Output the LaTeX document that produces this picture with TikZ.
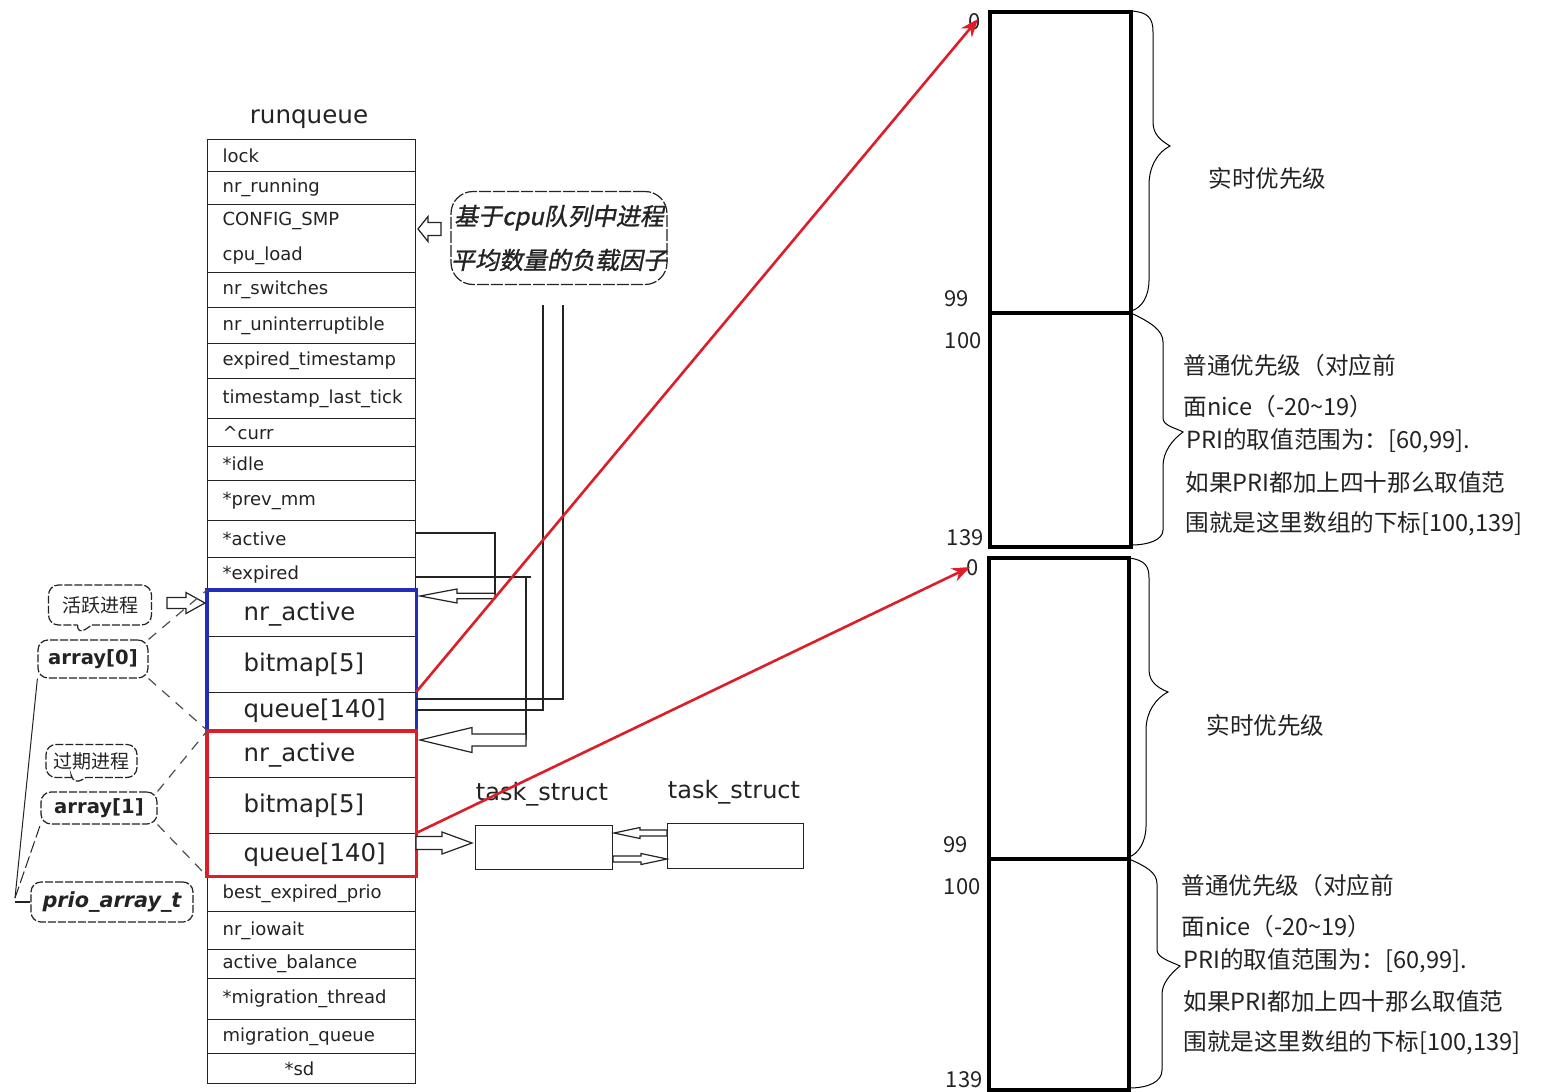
\documentclass[tikz,border=0pt]{standalone}
\usepackage{fontspec}
\setmainfont{DejaVu Sans}
\newfontfamily\cjk{Noto Sans CJK SC}
\newfontfamily\cjkbi[FakeSlant=0.2,FakeBold=1.2]{Noto Sans CJK SC}
\usetikzlibrary{arrows.meta,shapes.callouts,calc}
\definecolor{ink}{RGB}{35,35,35}
\definecolor{bluebox}{RGB}{35,45,185}
\definecolor{redbox}{RGB}{220,30,40}
\newcommand{\rqfont}{\fontsize{9}{11}\selectfont}
\newcommand{\aqfont}{\fontsize{12.2}{14}\selectfont}
\newcommand{\blockarrow}[6]{%
  \pgfmathsetmacro{\bah}{#2>#1 ? #2-#6 : #2+#6}%
  \draw[harrow] (#1,#3-#4) -- (\bah,#3-#4) -- (\bah,#3-#5) -- (#2,#3) -- (\bah,#3+#5) -- (\bah,#3+#4) -- (#1,#3+#4) -- cycle;}
\begin{document}
\begin{tikzpicture}[x=0.5pt,y=-0.5pt,
  row/.style={draw=ink, line width=0.6pt, minimum width=104pt, text width=89pt, inner xsep=7.5pt, inner ysep=0pt, align=left, font=\rqfont, text=ink, anchor=north west},
  arow/.style={draw=ink, line width=0.6pt, minimum width=104pt, text width=68pt, inner xsep=18pt, inner ysep=0pt, align=left, font=\aqfont, text=ink, anchor=north west},
  conn/.style={draw=ink, line width=0.6pt},
  harrow/.style={draw=ink, fill=white, line width=0.6pt},
  dconn/.style={draw=ink!80, line width=0.6pt, dash pattern=on 5pt off 4pt},
  bub/.style={draw=ink, line width=0.6pt, dash pattern=on 6pt off 1pt, rounded corners=6pt, fill=white, inner sep=0pt},
  lbl/.style={draw=ink, line width=0.6pt, rounded corners=5pt, dash pattern=on 4pt off 1pt, inner sep=0pt, text=ink},
  arr/.style={draw=black, line width=2pt, anchor=north west, inner sep=0pt},
  rtext/.style={font=\cjk\fontsize{11.8}{14}\selectfont, text=ink, anchor=west, inner sep=0pt},
  num/.style={font=\cjk\fontsize{11}{13}\selectfont, text=ink, anchor=east, inner sep=0pt},
  redarrow/.style={draw=redbox, line width=1.3pt, -{Stealth[length=9pt,width=7pt]}},
  brace/.style={draw=black, line width=0.5pt}
]
\useasboundingbox (0,0) rectangle (1550,1091);
\fill[white] (0,0) rectangle (1550,1091);

% ---------- runqueue table ----------
\node[font=\fontsize{12.3}{14}\selectfont, text=ink] (title) at (309,119) {runqueue};
\node[row, minimum height=16pt]   (lock) at (207,139) {lock};
\node[row, minimum height=16.5pt] (nrr)  at (207,171) {nr\_running};
\node[row, minimum height=34pt, font=\fontsize{9}{17.5}\selectfont] (cfg) at (207,204) {CONFIG\_SMP\\cpu\_load};
\node[row, minimum height=17.5pt] (nrs)  at (207,272) {nr\_switches};
\node[row, minimum height=18pt]   (nru)  at (207,307) {nr\_uninterruptible};
\node[row, minimum height=17.5pt] (ets)  at (207,343) {expired\_timestamp};
\node[row, minimum height=20pt]   (tlt)  at (207,378) {timestamp\_last\_tick};
\node[row, minimum height=14pt]   (curr) at (207,418) {\textasciicircum curr};
\node[row, minimum height=17pt]   (idle) at (207,446) {*idle};
\node[row, minimum height=20pt]   (pmm)  at (207,480) {*prev\_mm};
\node[row, minimum height=18.5pt] (act)  at (207,520) {*active};
\node[row, minimum height=16.5pt] (exp)  at (207,557) {*expired};
\node[arow, minimum height=23pt]   (a0n) at (207,590) {nr\_active};
\node[arow, minimum height=28pt]   (a0b) at (207,636) {bitmap[5]};
\node[arow, minimum height=18.5pt] (a0q) at (207,692) {queue[140]};
\node[arow, minimum height=23pt]   (a1n) at (207,731) {nr\_active};
\node[arow, minimum height=28pt]   (a1b) at (207,777) {bitmap[5]};
\node[arow, minimum height=21pt]   (a1q) at (207,833) {queue[140]};
\node[row, minimum height=18pt]   (bep)  at (207,875) {best\_expired\_prio};
\node[row, minimum height=19pt]   (iow)  at (207,911) {nr\_iowait};
\node[row, minimum height=14.5pt] (abal) at (207,949) {active\_balance};
\node[row, minimum height=20.5pt] (mth)  at (207,978) {*migration\_thread};
\node[row, minimum height=17pt]   (mq)   at (207,1019) {migration\_queue};
\node[row, minimum height=15pt]   (sd)   at (207,1053) {\hspace*{31pt}*sd};
\draw[bluebox, line width=1.6pt] (a0n.north west) rectangle (a0q.south east);
\draw[redbox, line width=1.6pt] (a1n.north west) rectangle (a1q.south east);

% ---------- load-factor bubble ----------
\node[bub, rounded corners=11pt, minimum width=108pt, minimum height=46.5pt, align=center,
      font=\cjkbi\fontsize{12}{22}\selectfont, text=ink] (load) at (559,238)
      {基于cpu队列中进程\\平均数量的负载因子};
\blockarrow{441}{418}{229}{6.5}{12.5}{10}

% ---------- lines from queue / active / expired ----------
\coordinate (v1t) at (543,305);
\coordinate (v2t) at (563,305);
\coordinate (h1) at (563,699);
\coordinate (h2) at (543,710);
\draw[conn] (h1 -| a0q.east) -- (h1) -- (v2t);
\draw[conn] (h2 -| a0q.east) -- (h2) -- (v1t);
\coordinate (ac) at (495,533);
\coordinate (acd) at (495,596);
\draw[conn] (ac -| act.east) -- (ac) -- (acd);
\blockarrow{495}{420}{596}{2.8}{7}{37}
\coordinate (ex) at (531,577);
\coordinate (exv) at (526,577);
\coordinate (exd) at (526,740);
\draw[conn] (ex -| exp.east) -- (ex);
\draw[conn] (exv) -- (exd);
\blockarrow{526}{420}{740}{6}{12.5}{52}

% ---------- task_struct ----------
\node[draw=ink, line width=0.6pt, minimum width=68.5pt, minimum height=22pt, anchor=north west, inner sep=0pt] (ts1) at (475,825) {};
\node[draw=ink, line width=0.6pt, minimum width=68pt, minimum height=22.5pt, anchor=north west, inner sep=0pt] (ts2) at (667,823) {};
\node[font=\fontsize{12}{14}\selectfont, text=ink] (ts1l) at (542,794) {task\_struct};
\node[font=\fontsize{12}{14}\selectfont, text=ink] (ts2l) at (734,792) {task\_struct};
\blockarrow{416}{472}{843}{6.5}{11}{30}
\blockarrow{667}{614}{833}{3}{5.5}{26}
\blockarrow{613}{667}{859}{3}{5.5}{26}

% ---------- left labels ----------
\node[rectangle callout, draw=ink, line width=0.6pt, dash pattern=on 4pt off 1pt, rounded corners=5pt,
      minimum width=51.5pt, minimum height=20pt, inner sep=0pt,
      callout absolute pointer={(77,635)}, font=\cjk\fontsize{9.5}{11}\selectfont, text=ink] (act0) at (100,605) {活跃进程};
\node[lbl, minimum width=55pt, minimum height=19pt, font=\bfseries\fontsize{9.8}{12}\selectfont] (arr0) at (93,659) {array[0]};
\node[rectangle callout, draw=ink, line width=0.6pt, dash pattern=on 4pt off 1pt, rounded corners=5pt,
      minimum width=45.5pt, minimum height=16.5pt, inner sep=0pt,
      callout absolute pointer={(73,785)}, font=\cjk\fontsize{9.5}{11}\selectfont, text=ink] (exp1) at (91.5,761) {过期进程};
\node[lbl, minimum width=58pt, minimum height=16pt, font=\bfseries\fontsize{9.8}{12}\selectfont] (arr1) at (99,808) {array[1]};
\node[lbl, minimum width=81pt, minimum height=20pt, font=\bfseries\itshape\fontsize{10.4}{12}\selectfont] (prio) at (112,902) {prio\_array\_t};
\blockarrow{167}{205}{603}{5.5}{10.5}{19}

\draw[dconn] (arr0.north east) -- (a0n.north west);
\draw[dconn] (arr0.south east) -- (a0q.south west);
\draw[dconn] (arr1.north east) -- (a1n.north west);
\draw[dconn] (arr1.south east) -- (a1q.south west);
\coordinate (pc) at (15,898);
\draw[conn, line width=0.5pt] (pc) -- (arr0.south west);
\draw[conn, line width=0.5pt, dash pattern=on 6pt off 2pt] (pc) -- (arr1.south west);
\draw[conn] (pc |- prio.west) -- (prio.west);

% ---------- priority arrays ----------
\node[arr, minimum width=70.5pt, minimum height=150.5pt] (T1) at (988,10) {};
\node[arr, minimum width=70.5pt, minimum height=117pt] (T2) at (988,311) {};
\node[arr, minimum width=70pt, minimum height=150.5pt] (B1) at (987,556) {};
\node[arr, minimum width=70pt, minimum height=115.5pt] (B2) at (987,857) {};

\node[num] (t0)   at (981,22) {0};
\node[num] (t99)  at (969,299) {99};
\node[num] (t100) at (982,341) {100};
\node[num] (t139) at (984,538) {139};
\node[num] (b0)   at (979,568) {0};
\node[num] (b99)  at (968,845) {99};
\node[num] (b100) at (981,887) {100};
\node[num] (b139) at (983,1080) {139};

\coordinate (tip1) at (978,19);
\coordinate (tip2) at (970,567);
\draw[redarrow] (a0q.north east) -- (tip1);
\draw[redarrow] (a1q.north east) -- (tip2);

% braces
\draw[brace] (1131,11) .. controls (1148,12) and (1153,18) .. (1153,32) -- (1153,122)
  .. controls (1153,134) and (1160,140) .. (1170,146)
  .. controls (1158,152) and (1149,166) .. (1149,185) -- (1149,280)
  .. controls (1149,296) and (1142,308) .. (1131,311);
\draw[brace] (1131,313) .. controls (1150,322) and (1163,330) .. (1163,342) -- (1163,418)
  .. controls (1163,426) and (1176,428) .. (1183,432)
  .. controls (1172,440) and (1163,452) .. (1163,466) -- (1163,530)
  .. controls (1163,540) and (1148,545) .. (1131,545);
\draw[brace] (1129,558) .. controls (1145,560) and (1149,566) .. (1149,578) -- (1149,670)
  .. controls (1149,682) and (1158,688) .. (1168,692)
  .. controls (1156,698) and (1146,712) .. (1146,730) -- (1146,826)
  .. controls (1146,842) and (1138,854) .. (1129,857);
\draw[brace] (1129,859) .. controls (1145,866) and (1157,872) .. (1157,884) -- (1157,950)
  .. controls (1157,958) and (1172,962) .. (1180,966)
  .. controls (1170,974) and (1162,984) .. (1162,994) -- (1162,1070)
  .. controls (1162,1082) and (1148,1088) .. (1129,1088);

\node[rtext] (rt1) at (1208,179) {实时优先级};
\node[rtext] (nt1) at (1183,366) {普通优先级（对应前};
\node[rtext] (nt2) at (1183,407) {面nice（-20\textasciitilde19）};
\node[rtext] (nt3) at (1186,441) {PRI的取值范围为：[60,99].};
\node[rtext] (nt4) at (1185,483) {如果PRI都加上四十那么取值范};
\node[rtext] (nt5) at (1185,524) {围就是这里数组的下标[100,139]};
\node[rtext] (rt2) at (1206,725) {实时优先级};
\node[rtext] (mt1) at (1181,886) {普通优先级（对应前};
\node[rtext] (mt2) at (1181,927) {面nice（-20\textasciitilde19）};
\node[rtext] (mt3) at (1183,961) {PRI的取值范围为：[60,99].};
\node[rtext] (mt4) at (1183,1002) {如果PRI都加上四十那么取值范};
\node[rtext] (mt5) at (1183,1043) {围就是这里数组的下标[100,139]};
\end{tikzpicture}
\end{document}
